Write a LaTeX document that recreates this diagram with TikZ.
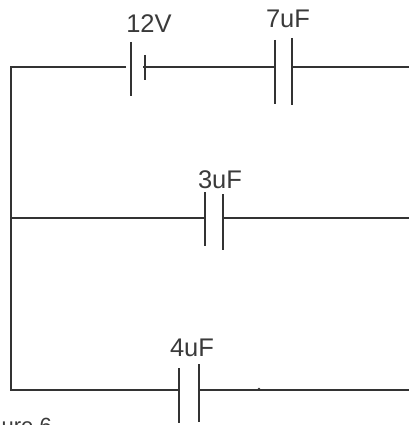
\documentclass[tikz,border=0pt]{standalone}
\usepackage{fontspec}
\setmainfont{Liberation Sans}
\definecolor{wirecol}{HTML}{333333}
\definecolor{txtcol}{HTML}{3A3A3A}
\tikzset{
  wire/.style={draw=wirecol,line width=2pt},
  plate/.style={draw=wirecol,line width=2pt},
  lbl/.style={text=txtcol,font=\fontsize{25.5}{25.5}\selectfont,inner sep=0pt,anchor=base},
  smalllbl/.style={text=txtcol,font=\fontsize{22}{22}\selectfont,inner sep=0pt,anchor=base east}
}
\begin{document}
\begin{tikzpicture}[x=1pt,y=-1pt]
\useasboundingbox (0,0) rectangle (409,425);
\clip (0,0) rectangle (409,425);
% corners and free ends
\coordinate (tl) at (11,67);
\coordinate (ml) at (11,218);
\coordinate (bl) at (11,390);
\coordinate (tr) at (409,67);
\coordinate (mr) at (409,218);
\coordinate (br) at (409,390);
% battery
\coordinate (batA) at (126,67);
\coordinate (batB) at (143,67);
\coordinate (batLt) at (131,42);
\coordinate (batLb) at (131,96);
\coordinate (batSt) at (145,55);
\coordinate (batSb) at (145,80);
% 7uF
\coordinate (c7A) at (275,67);
\coordinate (c7B) at (291,67);
\coordinate (c7at) at (275,40);
\coordinate (c7ab) at (275,104);
\coordinate (c7bt) at (292,38);
\coordinate (c7bb) at (292,105);
% 3uF
\coordinate (c3A) at (205,218);
\coordinate (c3B) at (223,218);
\coordinate (c3at) at (205,192);
\coordinate (c3ab) at (205,246);
\coordinate (c3bt) at (223,194);
\coordinate (c3bb) at (223,250);
% 4uF
\coordinate (c4A) at (180,390);
\coordinate (c4B) at (199,390);
\coordinate (c4at) at (179,368);
\coordinate (c4ab) at (179,423);
\coordinate (c4bt) at (199,364);
\coordinate (c4bb) at (199,422);
% wires
\draw[wire] (batA) -- (tl) -- (bl) -- (c4A);
\draw[wire] (batB) -- (c7A);
\draw[wire] (c7B) -- (tr);
\draw[wire] (ml) -- (c3A);
\draw[wire] (c3B) -- (mr);
\draw[wire] (c4B) -- (br);
% plates
\draw[plate] (batLt) -- (batLb);
\draw[plate] (batSt) -- (batSb);
\draw[plate] (c7at) -- (c7ab);
\draw[plate] (c7bt) -- (c7bb);
\draw[plate] (c3at) -- (c3ab);
\draw[plate] (c3bt) -- (c3bb);
\draw[plate] (c4at) -- (c4ab);
\draw[plate] (c4bt) -- (c4bb);
% labels
\node[lbl] (l12) at (149,33) {12V};
\node[lbl] (l7) at (288,28) {7uF};
\node[lbl] (l3) at (220,188) {3uF};
\node[lbl] (l4) at (192,356) {4uF};
\node[smalllbl] (lfig) at (52,433) {ure 6};
\fill[wirecol] (259,389) circle (1.3pt);
\end{tikzpicture}
\end{document}
